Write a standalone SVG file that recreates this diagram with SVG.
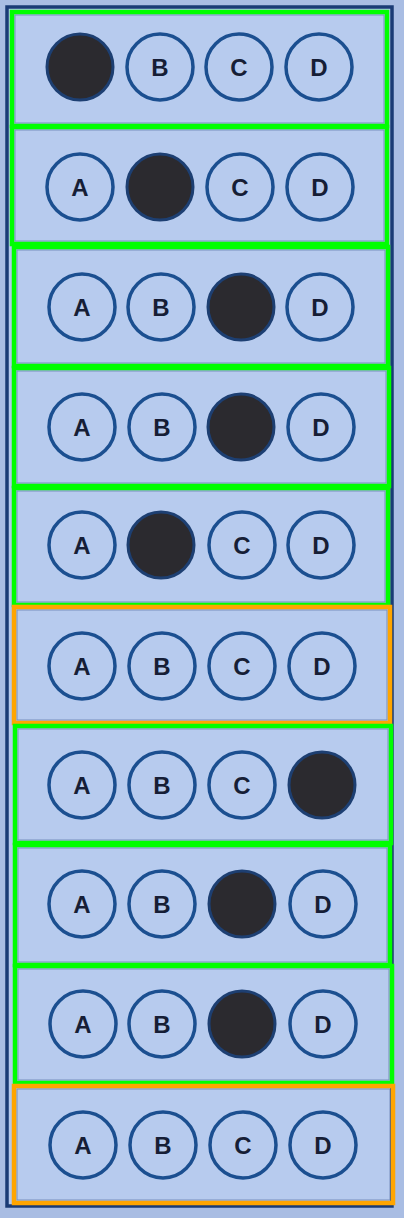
<svg xmlns="http://www.w3.org/2000/svg" width="404" height="1218" viewBox="0 0 404 1218">
<style>
.o{fill:none;stroke:#1b4f90;stroke-width:3.5}
.f{fill:#2b2a2f;stroke:#1d3f72;stroke-width:3}
.t{font-family:"Liberation Sans",Arial,sans-serif;font-weight:bold;font-size:24px;fill:#161e36;text-anchor:middle}
.g{fill:none;stroke:#00ff00;stroke-width:4.5}
.y{fill:none;stroke:#ffa500;stroke-width:4.5}
.p{fill:#b7cbee;stroke:#2a4a80;stroke-width:1;stroke-opacity:0.45}
</style>
<rect x="0" y="0" width="404" height="1218" fill="#a9bde3"/>
<rect x="7" y="7" width="385" height="1199" fill="#b5c9ec" stroke="#1a3b75" stroke-width="3.5"/>
<g id="row1">
<rect class="p" x="15" y="15" width="369" height="108"/>
<circle class="f" cx="80" cy="67" r="33"/>
<circle class="o" cx="160" cy="67" r="33"/><text class="t" x="160" y="75.5">B</text>
<circle class="o" cx="239" cy="67" r="33"/><text class="t" x="239" y="75.5">C</text>
<circle class="o" cx="319" cy="67" r="33"/><text class="t" x="319" y="75.5">D</text>
<rect class="g" x="12" y="12" width="375" height="114"/>
</g>
<g id="row2">
<rect class="p" x="15" y="130" width="369" height="111"/>
<circle class="o" cx="80" cy="187" r="33"/><text class="t" x="80" y="195.5">A</text>
<circle class="f" cx="160" cy="187" r="33"/>
<circle class="o" cx="240" cy="187" r="33"/><text class="t" x="240" y="195.5">C</text>
<circle class="o" cx="320" cy="187" r="33"/><text class="t" x="320" y="195.5">D</text>
<rect class="g" x="12" y="127" width="375" height="117"/>
</g>
<g id="row3">
<rect class="p" x="17" y="250" width="368" height="113"/>
<circle class="o" cx="82" cy="307" r="33"/><text class="t" x="82" y="315.5">A</text>
<circle class="o" cx="161" cy="307" r="33"/><text class="t" x="161" y="315.5">B</text>
<circle class="f" cx="241" cy="307" r="33"/>
<circle class="o" cx="320" cy="307" r="33"/><text class="t" x="320" y="315.5">D</text>
<rect class="g" x="14" y="247" width="374" height="119"/>
</g>
<g id="row4">
<rect class="p" x="17" y="371" width="369" height="112"/>
<circle class="o" cx="82" cy="427" r="33"/><text class="t" x="82" y="435.5">A</text>
<circle class="o" cx="162" cy="427" r="33"/><text class="t" x="162" y="435.5">B</text>
<circle class="f" cx="241" cy="427" r="33"/>
<circle class="o" cx="321" cy="427" r="33"/><text class="t" x="321" y="435.5">D</text>
<rect class="g" x="14" y="368" width="375" height="118"/>
</g>
<g id="row5">
<rect class="p" x="17" y="491" width="368" height="111"/>
<circle class="o" cx="82" cy="545" r="33"/><text class="t" x="82" y="553.5">A</text>
<circle class="f" cx="161" cy="545" r="33"/>
<circle class="o" cx="242" cy="545" r="33"/><text class="t" x="242" y="553.5">C</text>
<circle class="o" cx="321" cy="545" r="33"/><text class="t" x="321" y="553.5">D</text>
<rect class="g" x="14" y="488" width="374" height="117"/>
</g>
<g id="row6">
<rect class="p" x="17" y="610" width="370" height="110"/>
<circle class="o" cx="82" cy="666" r="33"/><text class="t" x="82" y="674.5">A</text>
<circle class="o" cx="162" cy="666" r="33"/><text class="t" x="162" y="674.5">B</text>
<circle class="o" cx="242" cy="666" r="33"/><text class="t" x="242" y="674.5">C</text>
<circle class="o" cx="322" cy="666" r="33"/><text class="t" x="322" y="674.5">D</text>
<rect class="y" x="14" y="607" width="376" height="116"/>
</g>
<g id="row7">
<rect class="p" x="18" y="729" width="370" height="111"/>
<circle class="o" cx="82" cy="785" r="33"/><text class="t" x="82" y="793.5">A</text>
<circle class="o" cx="162" cy="785" r="33"/><text class="t" x="162" y="793.5">B</text>
<circle class="o" cx="242" cy="785" r="33"/><text class="t" x="242" y="793.5">C</text>
<circle class="f" cx="322" cy="785" r="33"/>
<rect class="g" x="15" y="726" width="376" height="117"/>
</g>
<g id="row8">
<rect class="p" x="18" y="848" width="369" height="114"/>
<circle class="o" cx="82" cy="904" r="33"/><text class="t" x="82" y="912.5">A</text>
<circle class="o" cx="162" cy="904" r="33"/><text class="t" x="162" y="912.5">B</text>
<circle class="f" cx="242" cy="904" r="33"/>
<circle class="o" cx="323" cy="904" r="33"/><text class="t" x="323" y="912.5">D</text>
<rect class="g" x="15" y="845" width="375" height="120"/>
</g>
<g id="row9">
<rect class="p" x="18" y="969" width="371" height="111"/>
<circle class="o" cx="83" cy="1024" r="33"/><text class="t" x="83" y="1032.5">A</text>
<circle class="o" cx="162" cy="1024" r="33"/><text class="t" x="162" y="1032.5">B</text>
<circle class="f" cx="242" cy="1024" r="33"/>
<circle class="o" cx="323" cy="1024" r="33"/><text class="t" x="323" y="1032.5">D</text>
<rect class="g" x="15" y="966" width="377" height="117"/>
</g>
<g id="row10">
<rect class="p" x="17" y="1089" width="373" height="111"/>
<circle class="o" cx="83" cy="1145" r="33"/><text class="t" x="83" y="1153.5">A</text>
<circle class="o" cx="163" cy="1145" r="33"/><text class="t" x="163" y="1153.5">B</text>
<circle class="o" cx="243" cy="1145" r="33"/><text class="t" x="243" y="1153.5">C</text>
<circle class="o" cx="323" cy="1145" r="33"/><text class="t" x="323" y="1153.5">D</text>
<rect class="y" x="14" y="1086" width="379" height="117"/>
</g>
</svg>
